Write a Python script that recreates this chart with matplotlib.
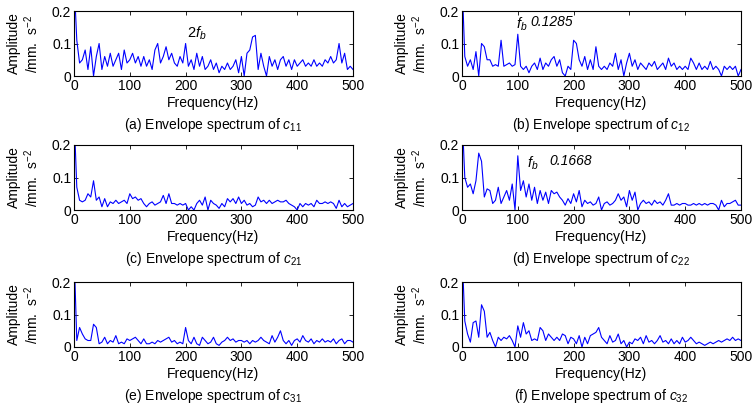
import numpy as np
import matplotlib
matplotlib.use("Agg")
import matplotlib.pyplot as plt

plt.rcParams['font.family'] = ['Liberation Sans', 'DejaVu Sans']
plt.rcParams['mathtext.fontset'] = 'custom'
plt.rcParams['mathtext.rm'] = 'Liberation Sans'
plt.rcParams['mathtext.it'] = 'Liberation Sans:italic'
plt.rcParams['font.size'] = 10

# frequency grid, 5 Hz steps
freq = np.arange(0, 505, 5)

amp_c11 = [0.30, 0.11, 0.04, 0.05, 0.08, 0.02, 0.09, 0.00, 0.06, 0.10,
           0.02, 0.06, 0.03, 0.07, 0.03, 0.05, 0.07, 0.02, 0.08, 0.04,
           0.05, 0.07, 0.04, 0.06, 0.03, 0.06, 0.03, 0.05, 0.02, 0.08,
           0.10, 0.04, 0.06, 0.09, 0.05, 0.07, 0.04, 0.03, 0.06, 0.04,
           0.10, 0.03, 0.05, 0.02, 0.07, 0.03, 0.06, 0.02, 0.03, 0.05,
           0.02, 0.04, 0.01, 0.03, 0.02, 0.04, 0.02, 0.03, 0.05, 0.01,
           0.06, 0.00, 0.07, 0.08, 0.12, 0.125, 0.02, 0.07, 0.03, 0.00,
           0.06, 0.03, 0.05, 0.02, 0.05, 0.06, 0.03, 0.05, 0.02, 0.05,
           0.03, 0.04, 0.05, 0.03, 0.04, 0.03, 0.05, 0.03, 0.04, 0.03,
           0.05, 0.04, 0.06, 0.04, 0.05, 0.10, 0.04, 0.07, 0.02, 0.03,
           0.02]

amp_c12 = [0.30, 0.06, 0.03, 0.05, 0.02, 0.075, 0.00, 0.10, 0.09, 0.05,
           0.05, 0.03, 0.035, 0.03, 0.11, 0.03, 0.035, 0.04, 0.03, 0.035,
           0.1285, 0.03, 0.02, 0.03, 0.01, 0.03, 0.04, 0.02, 0.055, 0.02,
           0.04, 0.03, 0.05, 0.06, 0.03, 0.05, 0.01, 0.00, 0.03, 0.02,
           0.11, 0.10, 0.05, 0.03, 0.06, 0.02, 0.05, 0.02, 0.09, 0.03,
           0.02, 0.03, 0.02, 0.04, 0.03, 0.07, 0.02, 0.05, 0.00, 0.04,
           0.07, 0.03, 0.05, 0.02, 0.04, 0.03, 0.02, 0.04, 0.03, 0.045,
           0.02, 0.03, 0.04, 0.02, 0.055, 0.03, 0.04, 0.02, 0.03, 0.02,
           0.03, 0.02, 0.055, 0.04, 0.02, 0.04, 0.02, 0.03, 0.02, 0.045,
           0.02, 0.03, 0.02, 0.00, 0.03, 0.02, 0.03, 0.02, 0.03, 0.00,
           0.02]

amp_c21 = [0.30, 0.07, 0.03, 0.025, 0.03, 0.05, 0.04, 0.09, 0.03, 0.04,
           0.01, 0.035, 0.01, 0.025, 0.02, 0.03, 0.02, 0.025, 0.03, 0.02,
           0.05, 0.035, 0.04, 0.03, 0.035, 0.02, 0.01, 0.02, 0.025, 0.015,
           0.02, 0.025, 0.045, 0.02, 0.05, 0.02, 0.02, 0.015, 0.02, 0.015,
           0.02, 0.00, 0.01, 0.00, 0.02, 0.03, 0.015, 0.04, 0.00, 0.03,
           0.02, 0.015, 0.005, 0.02, 0.01, 0.035, 0.025, 0.035, 0.02, 0.04,
           0.02, 0.03, 0.015, 0.02, 0.01, 0.015, 0.04, 0.025, 0.03, 0.02,
           0.03, 0.02, 0.025, 0.03, 0.025, 0.025, 0.03, 0.02, 0.015, 0.01,
           0.00, 0.02, 0.01, 0.02, 0.015, 0.02, 0.01, 0.03, 0.02, 0.02,
           0.025, 0.02, 0.025, 0.02, 0.005, 0.03, 0.01, 0.02, 0.01, 0.015,
           0.02]

amp_c22 = [0.30, 0.10, 0.07, 0.08, 0.05, 0.09, 0.175, 0.15, 0.04, 0.065,
           0.06, 0.02, 0.03, 0.07, 0.02, 0.04, 0.06, 0.03, 0.08, 0.00,
           0.1668, 0.06, 0.09, 0.04, 0.08, 0.03, 0.07, 0.02, 0.06, 0.03,
           0.055, 0.02, 0.06, 0.05, 0.055, 0.04, 0.03, 0.015, 0.035, 0.02,
           0.05, 0.025, 0.06, 0.01, 0.03, 0.02, 0.025, 0.015, 0.02, 0.04,
           0.00, 0.02, 0.025, 0.015, 0.02, 0.03, 0.05, 0.03, 0.04, 0.01,
           0.06, 0.03, 0.055, 0.00, 0.02, 0.03, 0.02, 0.025, 0.015, 0.03,
           0.02, 0.025, 0.015, 0.03, 0.05, 0.015, 0.015, 0.02, 0.015, 0.02,
           0.02, 0.015, 0.015, 0.02, 0.015, 0.02, 0.015, 0.02, 0.015, 0.02,
           0.02, 0.015, 0.00, 0.03, 0.01, 0.02, 0.02, 0.025, 0.03, 0.015,
           0.015]

amp_c31 = [0.30, 0.02, 0.06, 0.04, 0.025, 0.02, 0.02, 0.07, 0.06, 0.01,
           0.015, 0.03, 0.01, 0.02, 0.015, 0.035, 0.01, 0.015, 0.01, 0.025,
           0.02, 0.025, 0.03, 0.02, 0.01, 0.025, 0.01, 0.01, 0.015, 0.01,
           0.02, 0.015, 0.02, 0.025, 0.03, 0.015, 0.02, 0.01, 0.015, 0.01,
           0.06, 0.02, 0.01, 0.03, 0.01, 0.005, 0.03, 0.02, 0.01, 0.015,
           0.03, 0.01, 0.005, 0.015, 0.02, 0.03, 0.02, 0.025, 0.015, 0.02,
           0.02, 0.015, 0.02, 0.01, 0.02, 0.015, 0.02, 0.03, 0.02, 0.015,
           0.01, 0.035, 0.015, 0.03, 0.05, 0.02, 0.01, 0.02, 0.005, 0.02,
           0.025, 0.015, 0.035, 0.02, 0.015, 0.025, 0.01, 0.02, 0.015, 0.025,
           0.015, 0.02, 0.015, 0.025, 0.01, 0.02, 0.025, 0.01, 0.02, 0.02,
           0.015]

amp_c32 = [0.30, 0.08, 0.04, 0.015, 0.075, 0.08, 0.03, 0.13, 0.11, 0.03,
           0.045, 0.02, 0.00, 0.03, 0.02, 0.03, 0.025, 0.035, 0.02, 0.00,
           0.065, 0.03, 0.075, 0.04, 0.05, 0.02, 0.025, 0.02, 0.06, 0.05,
           0.02, 0.04, 0.03, 0.02, 0.03, 0.02, 0.04, 0.035, 0.01, 0.03,
           0.025, 0.01, 0.035, 0.00, 0.03, 0.01, 0.035, 0.04, 0.045, 0.06,
           0.03, 0.02, 0.01, 0.035, 0.015, 0.02, 0.04, 0.01, 0.02, 0.00,
           0.015, 0.01, 0.025, 0.02, 0.03, 0.01, 0.035, 0.015, 0.02, 0.01,
           0.02, 0.035, 0.015, 0.02, 0.01, 0.025, 0.01, 0.02, 0.01, 0.03,
           0.015, 0.02, 0.03, 0.02, 0.01, 0.015, 0.01, 0.005, 0.01, 0.015,
           0.01, 0.015, 0.02, 0.015, 0.02, 0.025, 0.02, 0.03, 0.02, 0.025,
           0.02]

series = [amp_c11, amp_c12, amp_c21, amp_c22, amp_c31, amp_c32]
letters = ['a', 'b', 'c', 'd', 'e', 'f']
subs = ['11', '12', '21', '22', '31', '32']

fig = plt.figure(figsize=(7.52, 4.05), dpi=100)

lefts = [74 / 752, 462 / 752]
bottoms = [1 - 76 / 405, 1 - 210 / 405, 1 - 347 / 405]
w = 279 / 752
h = 65 / 405

axes = []
for i, amp in enumerate(series):
    r, c = divmod(i, 2)
    ax = fig.add_axes([lefts[c], bottoms[r], w, h])
    ax.plot(freq, amp, color='#0000ff', lw=0.8)
    ax.set_xlim(0, 500)
    ax.set_ylim(0, 0.2)
    ax.set_xticks([0, 100, 200, 300, 400, 500])
    ax.set_yticks([0, 0.1, 0.2])
    ax.set_yticklabels(['0', '0.1', '0.2'])
    ax.tick_params(direction='in', top=True, right=True, length=3, width=0.6,
                   labelsize=10, pad=2)
    for s in ax.spines.values():
        s.set_linewidth(0.8)
    ax.set_xlabel('Frequency(Hz)', fontsize=10, labelpad=2)
    ax.set_ylabel('Amplitude\n/mm.  s$^{\\mathregular{-2}}$', fontsize=10,
                  labelpad=8, linespacing=1.05)
    ax.annotate('(%s) Envelope spectrum of $\\mathit{c}_{\\mathit{%s}}$' % (letters[i], subs[i]),
                xy=(0.5, 0), xycoords='axes fraction', xytext=(0, -49),
                textcoords='offset pixels', ha='center', va='center', fontsize=10)
    axes.append(ax)

axes[0].text(220, 0.132, '2$\\mathit{f}_{\\mathit{b}}$', ha='center', va='center', fontsize=10.5)
axes[1].text(97, 0.160, '$\\mathit{f}_{\\mathit{b}}$', ha='left', va='center', fontsize=10.5)
axes[1].text(122, 0.166, '0.1285', ha='left', va='center', fontsize=10, style='italic')
axes[3].text(117, 0.145, '$\\mathit{f}_{\\mathit{b}}$', ha='left', va='center', fontsize=10.5)
axes[3].text(156, 0.151, '0.1668', ha='left', va='center', fontsize=10, style='italic')

fig.savefig('out.png', dpi=100)
